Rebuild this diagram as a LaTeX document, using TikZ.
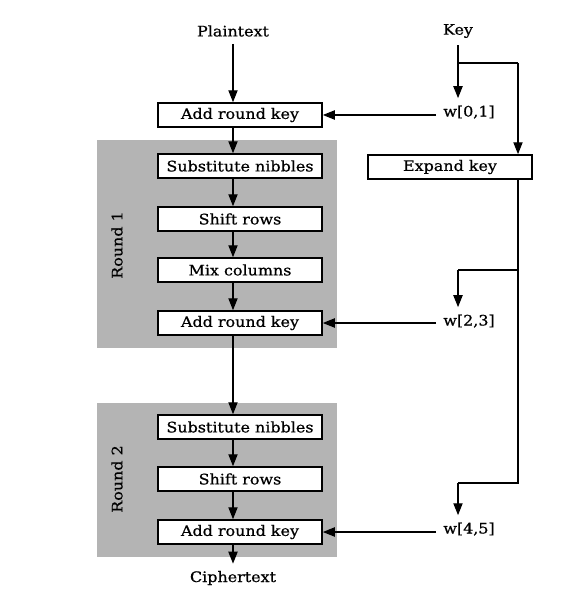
\documentclass[tikz,border=0pt]{standalone}
\usepackage{fontspec}
\setmainfont[FakeStretch=1.1,FakeBold=0.6]{DejaVu Serif}
\usepackage{tikz}
\usetikzlibrary{positioning,arrows.meta,calc}
\usepackage{xcolor}
\definecolor{roundgray}{HTML}{B4B4B4}
\newcommand{\diagfont}{\fontsize{10.3}{12}\selectfont}

\begin{document}
\begin{tikzpicture}[
    x=0.025cm, y=-0.025cm,
    stage/.style={draw, fill=white, line width=1.1pt, minimum width=4.1cm, minimum height=0.6cm, inner sep=0pt, font=\diagfont},
    roundbg/.style={fill=roundgray, minimum width=6cm, inner sep=0pt},
    roundtag/.style={rotate=90, font=\diagfont},
    txt/.style={font=\diagfont, inner sep=5pt},
    arrow/.style={-{Triangle[length=8.5pt,width=6.5pt]}, line width=1pt},
    wire/.style={line width=1pt},
]
\useasboundingbox (0,0) rectangle (577,590);
\fill[white] (0,0) rectangle (577,590);

% Round backgrounds
\node[roundbg, minimum height=5.2cm] (round1) at (217,244) {};
\node[roundbg, minimum height=3.85cm] (round2) at (217,480) {};
\node[roundtag] (tag1) at (117,245) {Round 1};
\node[roundtag] (tag2) at (117,479) {Round 2};

% Input / output
\node[txt] (ptext) at (233,31) {Plaintext};
\node[txt] (ctext) at (233,578) {Ciphertext};
\node[txt] (key) at (458,31) {Key};

% Main column
\node[stage] (ark0) at (240,115) {Add round key};
\node[stage] (sub1) at (240,166) {Substitute nibbles};
\node[stage] (shf1) at (240,219) {Shift rows};
\node[stage] (mix1) at (240,270) {Mix columns};
\node[stage] (ark1) at (240,323) {Add round key};
\node[stage] (sub2) at (240,427) {Substitute nibbles};
\node[stage] (shf2) at (240,479) {Shift rows};
\node[stage] (ark2) at (240,532) {Add round key};

% Key schedule
\node[stage] (expand) at (450,167) {Expand key};
\node[txt, anchor=west] (w01) at (436,112) {w[0,1]};
\node[txt, anchor=west] (w23) at (436,321) {w[2,3]};
\node[txt, anchor=west] (w45) at (436,529) {w[4,5]};
\coordinate (kbus) at (518,63);
\coordinate (tap23) at (458,270);
\coordinate (tap45) at (458,483);

% Arrows
\draw[arrow] (ptext.south) -- (ptext.south |- ark0.north);
\foreach \a/\b in {ark0/sub1, sub1/shf1, shf1/mix1, mix1/ark1, ark1/sub2, sub2/shf2, shf2/ark2} {
    \draw[arrow] (ptext.south |- \a.south) -- (ptext.south |- \b.north);
}
\draw[arrow] (ptext.south |- ark2.south) -- (ctext.north);

\draw[arrow] (key.south) -- (key.south |- w01.north);
\draw[wire] (key.south |- kbus) -- (kbus);
\draw[arrow] (kbus) -- (kbus |- expand.north);
\draw[wire] (kbus |- expand.south) |- (tap45);
\draw[arrow] (tap45) -- (tap45 |- w45.north);
\draw[wire] (kbus |- tap23) -- (tap23);
\draw[arrow] (tap23) -- (tap23 |- w23.north);

\foreach \w/\k in {w01/ark0, w23/ark1, w45/ark2} {
    \draw[arrow] (\k.east -| \w.west) -- (\k.east);
}

\end{tikzpicture}
\end{document}
